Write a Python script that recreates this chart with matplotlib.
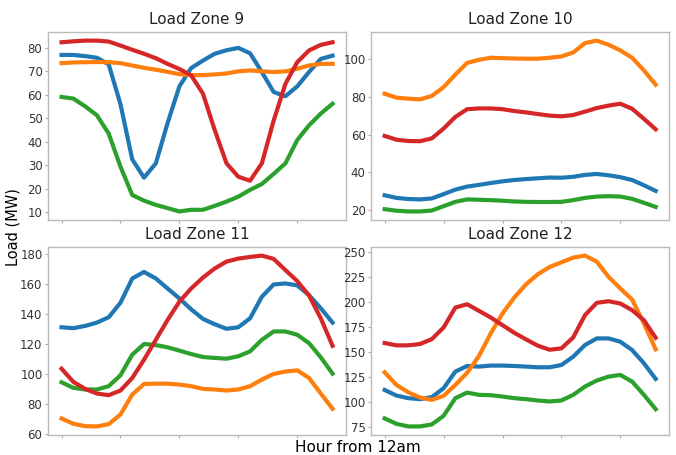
import numpy as np
import matplotlib.pyplot as plt
from matplotlib.ticker import MultipleLocator

hours = np.arange(24)
zones = ['Load Zone 9', 'Load Zone 10', 'Load Zone 11', 'Load Zone 12']
ytick_steps = [10, 20, 20, 25]

# load per zone, four series each (blue, orange, green, red)
zone9_blue = [77, 77, 76.5, 75.8, 73, 56, 32.5, 24.7, 30.8, 48, 63.6, 71.4,
              74.6, 77.5, 79, 80, 77.7, 69.7, 61.2, 59.4, 63.6, 69.7, 75.3, 76.7]
zone9_orange = [73.5, 73.8, 73.9, 74, 73.9, 73.5, 72.5, 71.5, 70.7, 69.8, 68.8, 68.4,
                68.4, 68.7, 69.1, 70, 70.4, 70, 69.7, 70, 71.1, 72.5, 73.2, 73.2]
zone9_green = [59.1, 58.4, 55.1, 51.3, 43.5, 29.4, 17.3, 14.9, 13.1, 11.7, 10.3, 11,
               11, 12.7, 14.5, 16.6, 19.5, 22, 26.3, 30.8, 40.7, 47, 52, 56.2]
zone9_red = [82.4, 82.8, 83.1, 83.1, 82.7, 81, 79.2, 77.5, 75.6, 73.2, 71, 68.3,
             60.5, 45, 30.8, 25.1, 23.4, 30.8, 49, 64.7, 73.9, 78.9, 81.3, 82.4]

zone10_blue = [27.9, 26.5, 25.9, 25.7, 26.2, 28.5, 30.9, 32.5, 33.4, 34.4, 35.3, 36,
               36.5, 36.9, 37.3, 37.2, 37.7, 38.7, 39.2, 38.5, 37.5, 36, 33.2, 30.2]
zone10_orange = [81.8, 79.7, 79.2, 78.8, 80.6, 85.3, 92, 98.2, 99.8, 100.9, 100.7, 100.5,
                 100.4, 100.4, 100.9, 101.6, 103.7, 108.7, 110, 107.8, 104.8, 100.9, 94.2, 86.6]
zone10_green = [20.5, 19.7, 19.3, 19.3, 19.8, 22.1, 24.4, 25.7, 25.5, 25.3, 25, 24.6,
                24.4, 24.3, 24.3, 24.4, 25.3, 26.5, 27.2, 27.4, 27.2, 26, 23.9, 21.7]
zone10_red = [59.4, 57.4, 56.7, 56.6, 58.1, 63.3, 69.5, 73.6, 74, 74, 73.6, 72.6,
              71.9, 71, 70.2, 69.8, 70.5, 72.3, 74.2, 75.5, 76.5, 73.8, 68.5, 62.9]

zone11_blue = [131.2, 130.6, 132.1, 134.3, 137.9, 147.6, 163.8, 168.2, 163.8, 157.1, 150.5, 143.2,
               136.8, 133.2, 130.2, 131.2, 137.2, 151.6, 159.8, 160.5, 159.2, 152.7, 143.9, 134.3]
zone11_orange = [70.2, 66.7, 65.1, 64.9, 66.4, 72.9, 86.2, 93.3, 93.5, 93.5, 92.9, 91.8,
                 90, 89.6, 88.9, 89.6, 91.8, 96.2, 100, 101.6, 102.4, 97.3, 86.9, 76.7]
zone11_green = [94.4, 90.7, 89.6, 89.6, 91.8, 99.1, 112.9, 120, 119.3, 117.8, 115.6, 113.3,
                111.3, 110.7, 110.2, 111.8, 115.1, 122.8, 128.4, 128.4, 126.2, 120.6, 111.1, 100.2]
zone11_red = [103.5, 94.7, 90, 86.9, 85.8, 88.9, 97.3, 109.5, 122.8, 136.1, 148.3, 157.1,
              164.4, 170.5, 175.1, 177.1, 178.2, 179.1, 176.9, 169.4, 162.1, 152.5, 137.2, 118.8]

zone12_blue = [112.4, 106.8, 104.2, 103.2, 105.2, 114.1, 130.7, 136.3, 135.7, 136.7, 136.7, 136.3,
               135.7, 135, 135, 137.3, 145.6, 157.2, 163.8, 163.8, 160.5, 152.2, 139, 123.4]
zone12_orange = [130, 117.4, 110.1, 104.8, 102.5, 106.5, 117.4, 129.6, 146.2, 168.8, 188.7, 204.6,
                 217.8, 227.8, 235.1, 239.7, 244.4, 246.4, 240.4, 225.2, 213.6, 202.6, 178.7, 152.9]
zone12_green = [84, 78.6, 76, 76, 78, 86.6, 104.2, 109.8, 107.5, 107.2, 105.8, 104.2,
                103.2, 101.9, 100.9, 101.9, 107.5, 115.8, 121.8, 125.7, 127.4, 120.7, 107.5, 93.2]
zone12_red = [159.2, 156.9, 156.9, 158.2, 163.1, 174.7, 194.6, 197.9, 191.3, 184.7, 177, 169.4,
              162.8, 156.5, 152.5, 153.9, 164.8, 187, 199.3, 200.9, 198.6, 192, 182, 164.4]

series = [
    [zone9_blue, zone9_orange, zone9_green, zone9_red],
    [zone10_blue, zone10_orange, zone10_green, zone10_red],
    [zone11_blue, zone11_orange, zone11_green, zone11_red],
    [zone12_blue, zone12_orange, zone12_green, zone12_red],
]
colors = ['#1f77b4', '#ff7f0e', '#2ca02c', '#d62728']

fig = plt.figure(figsize=(6.76, 4.55), dpi=100)
positions = [
    [0.071, 0.5165, 0.441, 0.413],
    [0.549, 0.5165, 0.441, 0.413],
    [0.071, 0.044, 0.441, 0.413],
    [0.549, 0.044, 0.441, 0.413],
]

for pos, title, lines, step in zip(positions, zones, series, ytick_steps):
    ax = fig.add_axes(pos)
    for vals, c in zip(lines, colors):
        ax.plot(hours, vals, color=c, linewidth=3)
    ax.set_title(title, fontsize=11, color='#222222')
    ax.set_xticks([0, 5, 10, 15, 20])
    ax.set_xticklabels([])
    ax.yaxis.set_major_locator(MultipleLocator(step))
    ax.tick_params(colors='#aaaaaa', labelcolor='#333333', labelsize=8.5,
                   length=2.5, width=0.8, pad=1.5)
    for s in ax.spines.values():
        s.set_color('#bbbbbb')
        s.set_linewidth(1)

fig.text(0.019, 0.5, 'Load (MW)', rotation=90, ha='center', va='center', fontsize=10.5)
fig.text(0.53, 0.017, 'Hour from 12am', ha='center', va='center', fontsize=11)

fig.savefig('out.png', dpi=100)
